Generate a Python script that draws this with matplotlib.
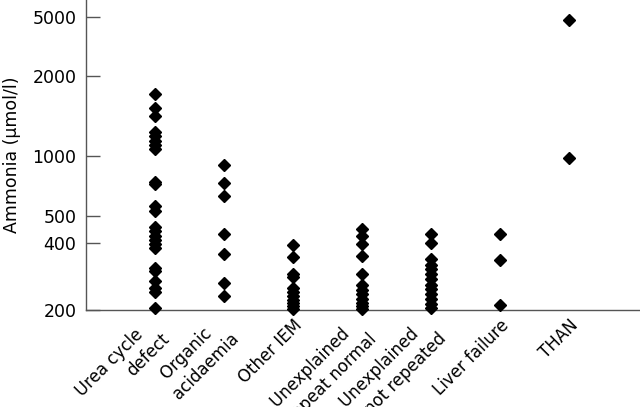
import numpy as np
import matplotlib
matplotlib.use("Agg")
from matplotlib import pyplot as plt
from matplotlib.transforms import ScaledTranslation

# ammonia values (umol/l)
categories = ["Urea cycle   \ndefect", "Organic   \nacidaemia", "Other IEM",
              "Unexplained   \nrepeat normal", "Unexplained   \nnot repeated",
              "Liver failure", "THAN"]
urea = [1700, 1510, 1410, 1230, 1190, 1140, 1100, 1060, 740, 720, 560, 530,
        455, 440, 425, 410, 395, 380, 310, 300, 270, 250, 240, 205]
organic = [900, 730, 630, 430, 355, 265, 230]
other_iem = [390, 345, 290, 280, 250, 240, 230, 222, 215, 208, 202]
repeat_normal = [450, 425, 395, 350, 290, 260, 245, 235, 225, 215, 208, 202]
not_repeated = [430, 400, 340, 320, 305, 290, 275, 260, 248, 236, 224, 212, 205]
liver = [430, 335, 210]
than = [4800, 975]
groups = [urea, organic, other_iem, repeat_normal, not_repeated, liver, than]

yticks = [200, 400, 500, 1000, 2000, 5000]

# the printed axis is not an even log axis, so map the tick spacing as drawn
knots_v = np.log10([100, 200, 400, 500, 1000, 2000, 5000, 10000])
knots_p = np.array([-67.2, 0, 67.2, 94.5, 154.5, 234.8, 293.2, 337.4])

def fwd(v):
    v = np.maximum(np.asarray(v, dtype=float), 1e-3)
    return np.interp(np.log10(v), knots_v, knots_p)

def inv(p):
    return 10 ** np.interp(p, knots_p, knots_v)

plt.rcParams['font.family'] = ['DejaVu Sans']

fig = plt.figure(figsize=(6.4, 4.07), dpi=100)
ax = fig.add_axes([86 / 640, 97 / 407, 1 - 86 / 640, 310 / 407])

for i, vals in enumerate(groups):
    ax.plot(np.full(len(vals), i + 1), vals, linestyle="none", marker="D",
            markersize=6.5, color="black", clip_on=False, zorder=3)

ax.set_yscale("function", functions=(fwd, inv))
ax.set_ylim(200, float(inv(310.5)))
ax.set_xlim(0, 8.03)
ax.set_yticks(yticks)
ax.set_yticklabels([str(t) for t in yticks])
ax.minorticks_off()
ax.set_xticks([])

# rotated category labels under each column
base = ax.get_xaxis_transform()
for i, name in enumerate(categories):
    if "\n" in name:
        dx, dy = -10, -4
    else:
        dx, dy = 0, -6
    tr = base + ScaledTranslation(dx / 100, dy / 100, fig.dpi_scale_trans)
    ax.text(i + 1, 0, name, transform=tr, rotation=45, ha="right", va="top",
            rotation_mode="anchor", multialignment="right", linespacing=1.3,
            fontsize=12, clip_on=False)

for s in ["top", "right"]:
    ax.spines[s].set_visible(False)
for s in ["left", "bottom"]:
    ax.spines[s].set_color("#555555")
    ax.spines[s].set_linewidth(1.0)

ax.tick_params(axis="y", direction="in", length=10, width=1.0,
               color="#555555", labelsize=12.5, pad=7)
ax.set_ylabel("Ammonia (\u03bcmol/l)", fontsize=12.5, labelpad=8)

fig.savefig("out.png", dpi=100)
